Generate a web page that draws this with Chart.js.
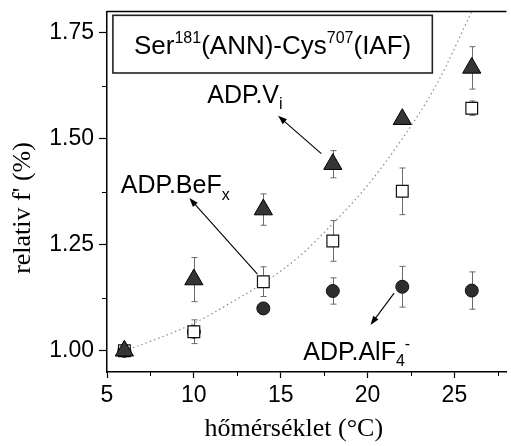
<!DOCTYPE html>
<html>
<head>
<meta charset="utf-8">
<title>relativ f' - hőmérséklet</title>
<script src="https://cdn.jsdelivr.net/npm/chart.js@4/dist/chart.umd.min.js"></script>
<style>
  html, body { margin: 0; padding: 0; background: #fff; overflow: hidden; }
  #wrap { width: 518px; height: 446px; }
</style>
</head>
<body>
<!-- the plot runs slightly past the right edge of the window, as in the reference -->
<div id="wrap"><canvas id="chart" width="518" height="446"></canvas></div>
<script>
// temperatures (°C)
const temps = [6, 10, 14, 18, 22, 26];

// ADP.Vi - filled triangles
const viValues = [1.00, 1.168, 1.333, 1.440, 1.546, 1.667];
const viErrors = [0, 0.052, 0.037, 0.032, 0, 0.050];

// ADP.BeFx - open squares
const befValues = [1.00, 1.045, 1.163, 1.259, 1.376, 1.572];
const befErrors = [0, 0.028, 0.035, 0.048, 0.055, 0.017];

// ADP.AlF4- - filled circles
const alfValues = [1.00, 1.045, 1.100, 1.141, 1.151, 1.142];
const alfErrors = [0, 0, 0, 0.031, 0.048, 0.044];

// dotted guide curve
const curveTemps = [6, 8, 10, 12, 14, 16, 18, 20, 22, 24, 26];
const curveValues = [1.00, 1.03, 1.065, 1.11, 1.16, 1.22, 1.30, 1.39, 1.50, 1.63, 1.80];

// axis ticks
const xTicks = [5, 10, 15, 20, 25];
const xMinorTicks = [7.5, 12.5, 17.5, 22.5, 27.5];
const yTicks = [1.00, 1.25, 1.50, 1.75];
const yMinorTicks = [1.125, 1.375, 1.625];

const SANS = '"Liberation Sans", Arial, Helvetica, sans-serif';
const SERIF = '"Liberation Serif", "Times New Roman", serif';

// text labels and arrows, placed in data units
const boxCorners = { x1: 5.34, y1: 1.791, x2: 23.73, y2: 1.655 };
const boxText = [
  { t: 'Ser' }, { t: '181', k: 'sup' }, { t: '(ANN)-Cys' }, { t: '707', k: 'sup' }, { t: '(IAF)' }
];
const notes = [
  { x: 10.77, y: 1.585, parts: [{ t: 'ADP.V' }, { t: 'i', k: 'sub' }] },
  { x: 5.79, y: 1.371, parts: [{ t: 'ADP.BeF' }, { t: 'x', k: 'sub' }] },
  { x: 16.3, y: 0.979, parts: [{ t: 'ADP.AlF' }, { t: '4', k: 'sub' }, { t: '-', k: 'sup' }] }
];
const arrows = [
  { from: [17.34, 1.465], to: [14.85, 1.554] },
  { from: [13.66, 1.181], to: [9.74, 1.360] },
  { from: [21.53, 1.136], to: [20.17, 1.061] }
];

function points(xs, ys) {
  return xs.map((x, i) => ({ x: x, y: ys[i] }));
}

// draw a string made of normal / sup / sub parts, left aligned at (x, y) baseline
function drawRich(ctx, parts, x, y, size) {
  const small = Math.round(size * 0.62);
  let cx = x;
  parts.forEach(p => {
    let dy = 0;
    let fs = size;
    if (p.k === 'sup') { fs = small; dy = -size * 0.42; }
    if (p.k === 'sub') { fs = small; dy = size * 0.25; }
    ctx.font = fs + 'px ' + SANS;
    ctx.fillText(p.t, cx, y + dy);
    cx += ctx.measureText(p.t).width;
  });
  return cx - x;
}

function richWidth(ctx, parts, size) {
  const small = Math.round(size * 0.62);
  let w = 0;
  parts.forEach(p => {
    ctx.font = (p.k ? small : size) + 'px ' + SANS;
    w += ctx.measureText(p.t).width;
  });
  return w;
}

function drawArrow(ctx, x1, y1, x2, y2) {
  const ang = Math.atan2(y2 - y1, x2 - x1);
  const len = 9, half = 3.2;
  ctx.beginPath();
  ctx.moveTo(x1, y1);
  ctx.lineTo(x2 - Math.cos(ang) * len * 0.8, y2 - Math.sin(ang) * len * 0.8);
  ctx.stroke();
  ctx.beginPath();
  ctx.moveTo(x2, y2);
  ctx.lineTo(x2 - Math.cos(ang) * len - Math.sin(ang) * half, y2 - Math.sin(ang) * len + Math.cos(ang) * half);
  ctx.lineTo(x2 - Math.cos(ang) * len + Math.sin(ang) * half, y2 - Math.sin(ang) * len - Math.cos(ang) * half);
  ctx.closePath();
  ctx.fill();
}

const extrasPlugin = {
  id: 'extras',
  // error bars go under the markers
  beforeDatasetsDraw(chart) {
    const ctx = chart.ctx;
    const xs = chart.scales.x, ys = chart.scales.y;
    const sets = [[viValues, viErrors], [befValues, befErrors], [alfValues, alfErrors]];
    ctx.save();
    ctx.strokeStyle = '#6a6a6a';
    ctx.lineWidth = 1;
    sets.forEach(([vals, errs]) => {
      temps.forEach((t, i) => {
        if (!errs[i]) return;
        const px = Math.round(xs.getPixelForValue(t)) + 0.5;
        const top = ys.getPixelForValue(vals[i] + errs[i]);
        const bot = ys.getPixelForValue(vals[i] - errs[i]);
        ctx.beginPath();
        ctx.moveTo(px, top); ctx.lineTo(px, bot);
        ctx.moveTo(px - 3, top); ctx.lineTo(px + 3, top);
        ctx.moveTo(px - 3, bot); ctx.lineTo(px + 3, bot);
        ctx.stroke();
      });
    });
    ctx.restore();
  },
  afterDraw(chart) {
    const ctx = chart.ctx;
    const area = chart.chartArea;
    const xs = chart.scales.x, ys = chart.scales.y;
    ctx.save();

    // top frame line
    ctx.strokeStyle = '#000';
    ctx.lineWidth = 1.5;
    ctx.beginPath();
    ctx.moveTo(area.left, area.top);
    ctx.lineTo(area.right, area.top);
    ctx.stroke();

    // minor ticks
    ctx.lineWidth = 1;
    ctx.beginPath();
    xMinorTicks.forEach(v => {
      const px = Math.round(xs.getPixelForValue(v)) + 0.5;
      ctx.moveTo(px, area.bottom);
      ctx.lineTo(px, area.bottom + 4);
    });
    yMinorTicks.forEach(v => {
      const py = Math.round(ys.getPixelForValue(v)) + 0.5;
      ctx.moveTo(area.left, py);
      ctx.lineTo(area.left - 5, py);
    });
    ctx.stroke();

    // title box
    const bx1 = xs.getPixelForValue(boxCorners.x1), by1 = ys.getPixelForValue(boxCorners.y1);
    const bx2 = xs.getPixelForValue(boxCorners.x2), by2 = ys.getPixelForValue(boxCorners.y2);
    ctx.fillStyle = '#fff';
    ctx.fillRect(bx1, by1, bx2 - bx1, by2 - by1);
    ctx.strokeStyle = '#222';
    ctx.lineWidth = 1.6;
    ctx.strokeRect(bx1, by1, bx2 - bx1, by2 - by1);
    ctx.fillStyle = '#000';
    ctx.textBaseline = 'alphabetic';
    ctx.textAlign = 'left';
    const bw = richWidth(ctx, boxText, 26);
    drawRich(ctx, boxText, (bx1 + bx2) / 2 - bw / 2, (by1 + by2) / 2 + 26 * 0.36, 26);

    // labels
    notes.forEach(n => {
      drawRich(ctx, n.parts, xs.getPixelForValue(n.x), ys.getPixelForValue(n.y), 25);
    });

    // arrows
    ctx.strokeStyle = '#000';
    ctx.lineWidth = 1.1;
    arrows.forEach(a => {
      drawArrow(ctx,
        xs.getPixelForValue(a.from[0]), ys.getPixelForValue(a.from[1]),
        xs.getPixelForValue(a.to[0]), ys.getPixelForValue(a.to[1]));
    });
    ctx.restore();
  }
};

// keep the plot box where the reference has it (no extra room for edge labels)
function noPadding(scale) {
  scale.paddingTop = 0;
  scale.paddingBottom = 0;
  scale.paddingLeft = 0;
  scale.paddingRight = 0;
}

const ctx = document.getElementById('chart').getContext('2d');
const chart = new Chart(ctx, {
  type: 'scatter',
  data: {
    datasets: [
      {
        label: 'ADP.Vi',
        data: points(temps, viValues),
        pointStyle: 'triangle',
        pointRadius: 10.5,
        backgroundColor: '#353535',
        borderColor: '#000',
        borderWidth: 1,
        order: 0
      },
      {
        label: 'ADP.BeFx',
        data: points(temps, befValues),
        pointStyle: 'rect',
        pointRadius: 8.3,
        backgroundColor: '#fff',
        borderColor: '#111',
        borderWidth: 1.2,
        order: 1
      },
      {
        label: 'ADP.AlF4-',
        data: points(temps, alfValues),
        pointStyle: 'circle',
        pointRadius: 6.5,
        backgroundColor: '#2e2e2e',
        borderColor: '#111',
        borderWidth: 1,
        order: 2
      },
      {
        label: 'fit',
        data: points(curveTemps, curveValues),
        showLine: true,
        pointRadius: 0,
        borderColor: '#8a8a8a',
        borderWidth: 1.2,
        borderDash: [1.5, 3],
        cubicInterpolationMode: 'monotone',
        order: 3
      }
    ]
  },
  options: {
    responsive: false,
    devicePixelRatio: 1,
    animation: false,
    events: [],
    layout: { padding: { left: 0, top: 10, right: 1, bottom: 0 } },
    plugins: {
      legend: { display: false },
      tooltip: { enabled: false }
    },
    scales: {
      x: {
        type: 'linear',
        min: 5,
        max: 28,
        afterBuildTicks: scale => { scale.ticks = xTicks.map(v => ({ value: v })); },
        afterFit: scale => { scale.height = 74; noPadding(scale); },
        grid: { display: true, drawOnChartArea: false, drawTicks: true, tickLength: 6, tickColor: '#000', tickWidth: 1.2 },
        border: { display: true, color: '#000', width: 1.5 },
        ticks: {
          color: '#000',
          font: { family: SANS, size: 23 },
          padding: 4,
          maxRotation: 0,
          autoSkip: false,
          callback: v => String(v)
        },
        title: {
          display: true,
          text: 'hőmérséklet (°C)\u00a0\u00a0\u00a0\u00a0',
          color: '#000',
          font: { family: SERIF, size: 26, lineHeight: 1.2 },
          padding: { top: 0, bottom: 1 }
        }
      },
      y: {
        type: 'linear',
        min: 0.95,
        max: 1.80,
        afterBuildTicks: scale => { scale.ticks = yTicks.map(v => ({ value: v })); },
        afterFit: scale => { scale.width = 107; noPadding(scale); },
        grid: { display: true, drawOnChartArea: false, drawTicks: true, tickLength: 8, tickColor: '#000', tickWidth: 1.2 },
        border: { display: true, color: '#000', width: 1.5 },
        ticks: {
          color: '#000',
          font: { family: SANS, size: 23 },
          padding: 5,
          autoSkip: false,
          callback: v => v.toFixed(2)
        },
        title: {
          display: true,
          text: "relativ f' (%)\u00a0\u00a0\u00a0\u00a0\u00a0",
          color: '#000',
          font: { family: SERIF, size: 26, lineHeight: 1.2 },
          padding: { top: 8, bottom: 0 }
        }
      }
    }
  },
  plugins: [extrasPlugin]
});
</script>
</body>
</html>
